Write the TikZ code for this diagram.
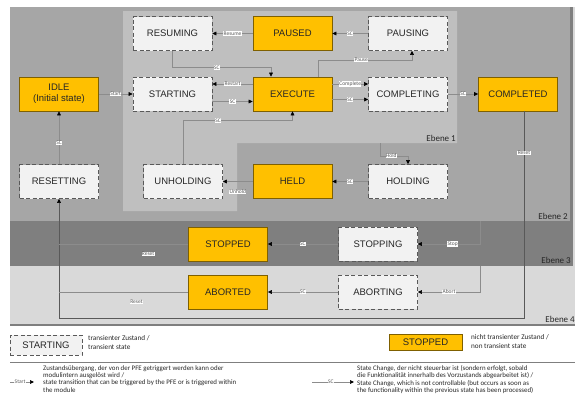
\documentclass[tikz,border=0pt]{standalone}
\usepackage{fontspec}
\setmainfont{Carlito}
\newfontfamily\arialf{Liberation Sans}
\usetikzlibrary{arrows.meta,calc}
\definecolor{ebA}{HTML}{BFBFBF}
\definecolor{ebB}{HTML}{A6A6A6}
\definecolor{ebC}{HTML}{7F7F7F}
\definecolor{ebD}{HTML}{D9D9D9}
\definecolor{orng}{HTML}{FFC000}
\definecolor{orngb}{HTML}{7F6000}
\definecolor{trf}{HTML}{F2F2F2}
\definecolor{trb}{HTML}{595959}
\definecolor{lnc}{HTML}{8C8C8C}
\definecolor{txc}{HTML}{262626}
\tikzset{
  stTrans/.style={draw=trb, dash pattern=on 4pt off 2.5pt, line width=0.9pt, fill=trf,
    minimum width=79pt, minimum height=34pt, inner sep=0pt, text=txc,
    font=\arialf\fontsize{9.5}{11}\selectfont, align=center},
  stFix/.style={draw=orngb, line width=0.7pt, fill=orng,
    minimum width=79pt, minimum height=34pt, inner sep=0pt, text=txc,
    font=\arialf\fontsize{9.5}{11}\selectfont, align=center},
  conn/.style={draw=lnc, line width=0.6pt, -{Triangle[length=4pt,width=3.8pt,color=black]}},
  plainln/.style={draw=lnc, line width=0.6pt},
  lab/.style={fill=white, inner sep=0.4pt, text=trb, font=\fontsize{5.5}{6}\selectfont},
  ebl/.style={anchor=east, inner sep=0pt, text=txc, font=\fontsize{9}{10}\selectfont},
  legtxt/.style={anchor=north west, inner sep=0pt, align=left, text=txc}
}
\begin{document}
\begin{tikzpicture}[x=1pt,y=-1pt]
\useasboundingbox (0,0) rectangle (575,394);
\clip (0,0) rectangle (575,394);
% layers
\fill[ebD] (10,7) rectangle (575,325);
\fill[ebC] (10,7) rectangle (573,266);
\fill[ebB] (10,7) rectangle (570,221);
\fill[ebA] (123,11) -- (457,11) -- (457,143) -- (237,143) -- (237,211) -- (123,211) -- cycle;
\draw[ebC, line width=1.2pt] (10,325) -- (575,325);
\node[ebl] (e1) at (456,138) {Ebene 1};
\node[ebl] (e2) at (568,216) {Ebene 2};
\node[ebl] (e3) at (571,260) {Ebene 3};
\node[ebl] (e4) at (575,319) {Ebene 4};
% states
\node[stTrans] (resuming) at (172.5,33.5) {RESUMING};
\node[stFix] (paused) at (292.5,33.5) {PAUSED};
\node[stTrans] (pausing) at (408,33.5) {PAUSING};
\node[stFix] (idle) at (59,94) {IDLE\\(Initial state)};
\node[stTrans] (starting) at (172.5,94) {STARTING};
\node[stFix] (execute) at (292.5,94) {EXECUTE};
\node[stTrans] (completing) at (408,94) {COMPLETING};
\node[stFix] (completed) at (518,94) {COMPLETED};
\node[stTrans] (resetting) at (59,181.5) {RESETTING};
\node[stTrans] (unholding) at (183,181.5) {UNHOLDING};
\node[stFix] (held) at (292.5,181.5) {HELD};
\node[stTrans] (holding) at (408,181.5) {HOLDING};
\node[stFix] (stopped) at (228,244) {STOPPED};
\node[stTrans] (stopping) at (378,244) {STOPPING};
\node[stFix] (aborted) at (228,292) {ABORTED};
\node[stTrans] (aborting) at (378,292) {ABORTING};
\coordinate (holdsrc) at (380,143);
\coordinate (stopsrc) at (480,221);
\coordinate (abortsrc) at (480,266);
% transitions
\draw[conn] (idle.east) -- node[lab]{Start} (starting.west);
\draw[conn] ($(starting.east)+(0,7.5)$) -- node[lab]{SC} ($(execute.west)+(0,7.5)$);
\draw[conn] ($(execute.west)+(0,-10)$) -- node[lab]{Restart} ($(starting.east)+(0,-10)$);
\draw[conn] (paused.west) -- node[lab]{Resume} (resuming.east);
\draw[conn] (pausing.west) -- node[lab]{SC} (paused.east);
\draw[conn] ($(execute.north)+(25.5,0)$) |- node[lab,pos=0.73]{Pause} ($(pausing.south)+(4,9)$) -- ($(pausing.south)+(4,0)$);
\draw[conn] (resuming.south) |- node[lab,pos=0.725]{SC} ($(execute.north)+(-21.5,-9)$) -- ($(execute.north)+(-21.5,0)$);
\draw[conn] ($(execute.east)+(0,-10)$) -- node[lab]{Complete} ($(completing.west)+(0,-10)$);
\draw[conn] ($(execute.east)+(0,5.5)$) -- node[lab]{SC} ($(completing.west)+(0,5.5)$);
\draw[conn] (completing.east) -- node[lab]{SC} (completed.west);
\draw[conn] (resetting.north) -- node[lab,pos=0.4]{SC} (idle.south);
\draw[conn] (unholding.north) |- node[lab,pos=0.66]{SC} ($(execute.south)+(0,9)$) -- (execute.south);
\draw[conn] (holdsrc) |- node[lab,pos=0.7]{Hold} ($(holding.north)+(0,-8)$) -- (holding.north);
\draw[conn] (holding.west) -- node[lab]{SC} (held.east);
\draw[conn] (held.west) -- node[lab,yshift=-10.5pt]{Unhold} (unholding.east);
\draw[conn] (stopsrc) |- node[lab,pos=0.72]{Stop} (stopping.east);
\draw[conn] (stopping.west) -- node[lab]{SC} (stopped.east);
\draw[conn] (abortsrc) |- node[lab,pos=0.75]{Abort} (aborting.east);
\draw[conn] (aborting.west) -- node[lab]{SC} (aborted.east);
\draw[conn, draw=trb] ($(completed.south)+(6,0)$) -- node[lab,pos=0.2]{Reset} ($(completed.south)+(6,207)$) -| (resetting.south);
\draw[plainln] (stopped.west) -- node[lab,pos=0.31,yshift=-10pt]{Reset} (stopped.west -| resetting.south);
\draw[plainln] (aborted.west) -- node[lab,pos=0.4,yshift=-10pt]{Reset} (aborted.west -| resetting.south);
% legend
\node[stTrans, minimum width=72pt, minimum height=20pt] (legT) at (46,345) {STARTING};
\node[legtxt, font=\fontsize{7.2}{8.8}\selectfont] (legTt) at (88,335.5) {transienter Zustand /\\transient state};
\node[stFix, minimum width=73pt, minimum height=16pt] (legF) at (425.5,342) {STOPPED};
\node[legtxt, font=\fontsize{7.2}{8.8}\selectfont] (legFt) at (471,334) {nicht transienter Zustand /\\non transient state};
\draw[ebC, line width=0.8pt] (10,362) -- (575,362);
\coordinate (ls1) at (10,382);
\coordinate (ls2) at (34,382);
\draw[conn] (ls1) -- node[lab,pos=0.42]{Start} (ls2);
\coordinate (lc1) at (312,382);
\coordinate (lc2) at (354,382);
\draw[conn] (lc1) -- node[lab,pos=0.45]{SC} (lc2);
\node[legtxt, font=\fontsize{6.9}{7.2}\selectfont] (legS) at (43,365.5) {Zustandsübergang, der von der PFE getriggert werden kann oder\\modulintern ausgelöst wird /\\state transition that can be triggered by the PFE or is triggered within\\the module};
\node[legtxt, font=\fontsize{6.9}{7.2}\selectfont] (legC) at (357,365.5) {State Change, der nicht steuerbar ist (sondern erfolgt, sobald\\die Funktionalität innerhalb des Vorzustands abgearbeitet ist) /\\State Change, which is not controllable (but occurs as soon as\\the functionality within the previous state has been processed)};
\end{tikzpicture}
\end{document}
